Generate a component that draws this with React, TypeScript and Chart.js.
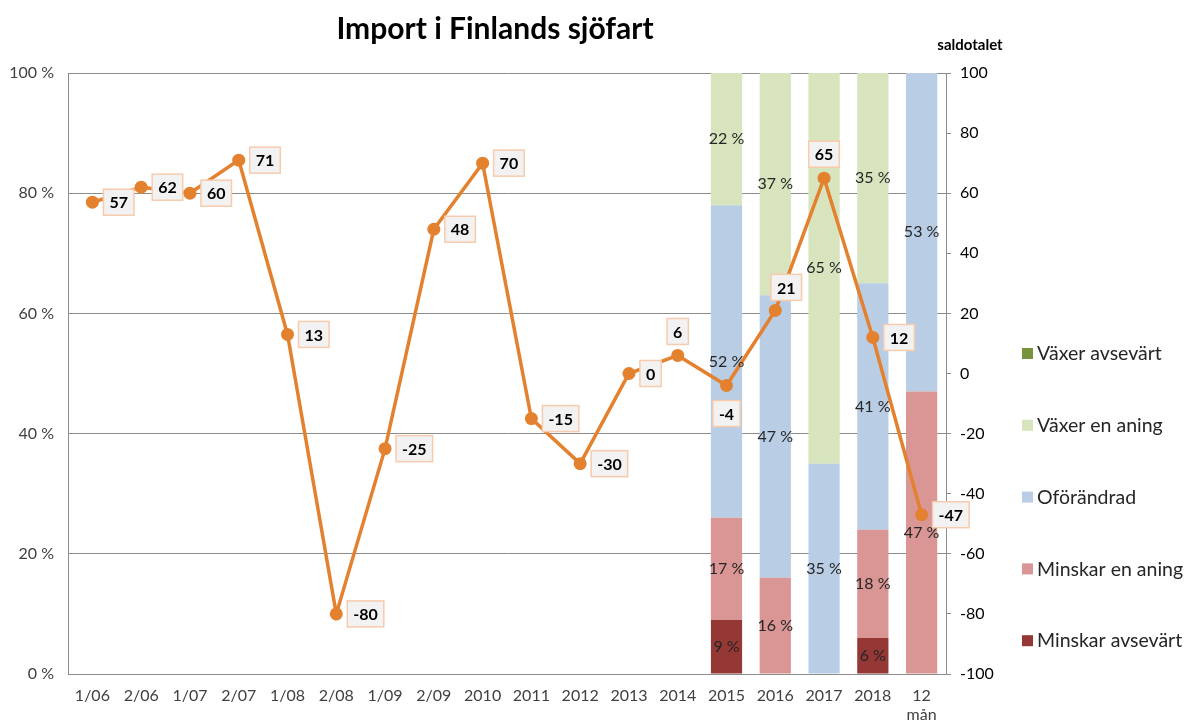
import React, { useEffect, useRef } from 'react';
import { Chart, registerables } from 'chart.js';

Chart.register(...registerables);

const categories: (string | string[])[] = ['1/06', '2/06', '1/07', '2/07', '1/08', '2/08', '1/09', '2/09', '2010', '2011', '2012', '2013', '2014', '2015', '2016', '2017', '2018', ['12', 'mån']];
const saldotal = [57, 62, 60, 71, 13, -80, -25, 48, 70, -15, -30, 0, 6, -4, 21, 65, 12, -47];
const labelPlacement = ['right', 'right', 'right', 'right', 'right', 'right', 'right', 'right', 'right', 'right', 'right', 'right', 'above', 'below', 'aboveRight', 'above', 'right', 'right'];

const E = null;
const vaxerAvsevart = [E, E, E, E, E, E, E, E, E, E, E, E, E, 0, 0, 0, 0, 0];
const vaxerEnAning = [E, E, E, E, E, E, E, E, E, E, E, E, E, 22, 37, 65, 35, 0];
const oforandrad = [E, E, E, E, E, E, E, E, E, E, E, E, E, 52, 47, 35, 41, 53];
const minskarEnAning = [E, E, E, E, E, E, E, E, E, E, E, E, E, 17, 16, 0, 18, 47];
const minskarAvsevart = [E, E, E, E, E, E, E, E, E, E, E, E, E, 9, 0, 0, 6, 0];

const leftTicks = [0, 20, 40, 60, 80, 100];
const rightTicks = [-100, -80, -60, -40, -20, 0, 20, 40, 60, 80, 100];

const FONT = 'Lato';
const GRID = '#8c8c8c';
const TEXT = '#404040';
const LINE = '#E4812F';

const barSeries = [
  { label: 'Minskar avsevärt', data: minskarAvsevart, color: '#953735' },
  { label: 'Minskar en aning', data: minskarEnAning, color: '#D99694' },
  { label: 'Oförändrad', data: oforandrad, color: '#B9CDE5' },
  { label: 'Växer en aning', data: vaxerEnAning, color: '#D7E4BD' },
  { label: 'Växer avsevärt', data: vaxerAvsevart, color: '#77933C' },
];

const overlayPlugin = {
  id: 'overlay',
  afterDatasetsDraw(chart: any) {
    const ctx = chart.ctx;
    ctx.save();
    chart.data.datasets.forEach((ds: any, di: number) => {
      if (ds.type !== 'bar') return;
      const meta = chart.getDatasetMeta(di);
      meta.data.forEach((el: any, i: number) => {
        const v = ds.data[i];
        if (v == null || v === 0) return;
        const p = el.getProps(['x', 'y', 'base'], true);
        ctx.font = `16px ${FONT}`;
        ctx.fillStyle = '#262626';
        ctx.textAlign = 'center';
        ctx.textBaseline = 'middle';
        ctx.fillText(`${v} %`, p.x, (p.y + p.base) / 2);
      });
    });
    const li = chart.data.datasets.findIndex((d: any) => d.type === 'line');
    const lmeta = chart.getDatasetMeta(li);
    lmeta.data.forEach((pt: any, i: number) => {
      const txt = String(saldotal[i]);
      ctx.font = `bold 16px ${FONT}`;
      const w = ctx.measureText(txt).width + 12;
      const h = 26;
      let cx = pt.x, cy = pt.y;
      const pl = labelPlacement[i];
      if (pl === 'right') { cx = pt.x + 11 + w / 2; cy = pt.y; }
      else if (pl === 'above') { cy = pt.y - 24; }
      else if (pl === 'below') { cy = pt.y + 28; }
      else if (pl === 'aboveRight') { cx = pt.x + 11; cy = pt.y - 23; }
      ctx.fillStyle = '#F2F2F2';
      ctx.fillRect(cx - w / 2, cy - h / 2, w, h);
      ctx.strokeStyle = '#F8CBAD';
      ctx.lineWidth = 1.5;
      ctx.strokeRect(cx - w / 2, cy - h / 2, w, h);
      ctx.fillStyle = '#000';
      ctx.textAlign = 'center';
      ctx.textBaseline = 'middle';
      ctx.fillText(txt, cx, cy + 1);
    });
    ctx.restore();
  },
  afterDraw(chart: any) {
    const ctx = chart.ctx;
    ctx.save();
    ctx.fillStyle = '#000';
    ctx.textAlign = 'center';
    ctx.textBaseline = 'middle';
    ctx.font = `bold 30px ${FONT}`;
    ctx.fillText('Import i Finlands sjöfart', 495, 29);
    ctx.font = `bold 15px ${FONT}`;
    ctx.fillText('saldotalet', 970, 45);
    const legendOrder = [...barSeries].reverse();
    legendOrder.forEach((s, i) => {
      const y = 353 + i * 71.8;
      ctx.fillStyle = s.color;
      ctx.fillRect(1022, y - 5, 11, 11);
      ctx.fillStyle = '#262626';
      ctx.textAlign = 'left';
      ctx.font = `19.5px ${FONT}`;
      ctx.fillText(s.label, 1037, y + 1);
    });
    ctx.restore();
  },
};

export default function App() {
  const ref = useRef<HTMLCanvasElement>(null);
  useEffect(() => {
    document.body.style.margin = '0';
    const datasets: any[] = [
      {
        type: 'line',
        label: 'Saldotal',
        data: saldotal,
        yAxisID: 'y2',
        borderColor: LINE,
        backgroundColor: LINE,
        borderWidth: 3.5,
        pointRadius: 6.5,
        pointHoverRadius: 6.5,
        pointBackgroundColor: LINE,
        pointBorderWidth: 0,
        tension: 0,
        order: 0,
      },
      ...barSeries.map((s) => ({
        type: 'bar',
        label: s.label,
        data: s.data,
        yAxisID: 'y',
        backgroundColor: s.color,
        borderWidth: 0,
        categoryPercentage: 1,
        barPercentage: 0.64,
        order: 1,
      })),
    ];
    const chart = new Chart(ref.current!, {
      type: 'bar',
      data: { labels: categories as any, datasets },
      options: {
        animation: false,
        responsive: false,
        layout: { padding: { top: 73, left: 0, right: 0, bottom: 0 } },
        plugins: { legend: { display: false }, tooltip: { enabled: false }, title: { display: false } },
        scales: {
          x: {
            stacked: true,
            grid: { display: false, drawTicks: false },
            border: { display: true, color: GRID, width: 1 },
            ticks: { color: TEXT, font: { family: FONT, size: 16 }, padding: 12, maxRotation: 0, autoSkip: false },
            afterFit: (s: any) => { s.height = 51; },
          },
          y: {
            stacked: true,
            position: 'left',
            min: 0,
            max: 100,
            afterBuildTicks: (s: any) => { s.ticks = leftTicks.map((v) => ({ value: v })); },
            grid: { color: GRID, drawTicks: false, lineWidth: 1 },
            border: { display: true, color: GRID, width: 1 },
            ticks: { color: TEXT, font: { family: FONT, size: 16 }, padding: 14, callback: (v: any) => `${v} %` },
            afterFit: (s: any) => { s.width = 68; },
          },
          y2: {
            position: 'right',
            min: -100,
            max: 100,
            afterBuildTicks: (s: any) => { s.ticks = rightTicks.map((v) => ({ value: v })); },
            grid: { drawOnChartArea: false, drawTicks: true, tickLength: 5, color: GRID },
            border: { display: true, color: GRID, width: 1 },
            ticks: { color: '#000', font: { family: FONT, size: 16 }, padding: 9 },
            afterFit: (s: any) => { s.width = 240; },
          },
        },
      } as any,
      plugins: [overlayPlugin],
    });
    return () => chart.destroy();
  }, []);
  return (
    <div style={{ position: 'absolute', left: 0, top: 0, width: 1186, height: 725, background: '#fff' }}>
      <canvas ref={ref} width={1186} height={725} />
    </div>
  );
}
